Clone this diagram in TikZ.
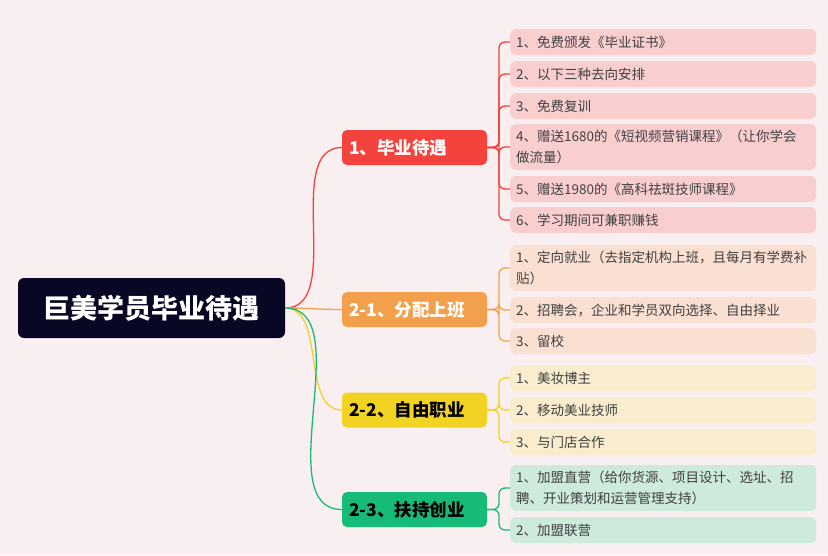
\documentclass[tikz,border=0pt]{standalone}
\usepackage{fontspec}
\newfontfamily\cjk{Noto Sans CJK SC}
\begin{document}
\begin{tikzpicture}[x=1pt,y=-1pt,font=\cjk,
 leaf/.style={rounded corners=6pt,minimum width=306pt,text width=294pt,align=left,inner sep=0pt,text=black!75,font=\cjk\fontsize{13.5}{21}\selectfont,anchor=west},
 br/.style={rounded corners=5pt,minimum width=145pt,minimum height=35pt,inner sep=0pt,text width=131pt,align=left,font=\cjk\bfseries\fontsize{17.5}{20}\selectfont},
 ln/.style={line width=1.3pt,rounded corners=6pt}]
\definecolor{bg}{HTML}{F9EFF0}
\definecolor{cR}{HTML}{F4433C}\definecolor{lR}{HTML}{F9CECF}
\definecolor{cO}{HTML}{F3A04D}\definecolor{lO}{HTML}{FAE0D2}
\definecolor{cY}{HTML}{F2D324}\definecolor{lY}{HTML}{F9EDCE}
\definecolor{cG}{HTML}{17BB78}\definecolor{lG}{HTML}{CDEADB}
\fill[bg] (0,0) rectangle (828,555);
\useasboundingbox (0,0) rectangle (828,555);
\node[fill={rgb,255:red,8;green,8;blue,36},rounded corners=6pt,minimum width=267pt,minimum height=60pt,text=white,font=\cjk\bfseries\fontsize{27}{30}\selectfont] (root) at (151.5,308) {巨美学员毕业待遇};
\node[br,fill=cR,text=white] (b1) at (414.5,147.5) {1、毕业待遇};
\node[br,fill=cO,text=white] (b2) at (414.5,309.5) {2-1、分配上班};
\node[br,fill=cY,text=black] (b3) at (414.5,410) {2-2、自由职业};
\node[br,fill=cG,text=black] (b4) at (414.5,509.5) {2-3、扶持创业};
\foreach \b/\c in {b1/cR,b2/cO,b3/cY,b4/cG}
 \draw[\c,line width=1.3pt] (root.east) to[out=0,in=180,looseness=0.9] (\b.west);
% leaves
\node[leaf,fill=lR,minimum height=26pt] (r1) at (510,42) {1、免费颁发《毕业证书》};
\node[leaf,fill=lR,minimum height=26pt] (r2) at (510,74) {2、以下三种去向安排};
\node[leaf,fill=lR,minimum height=26pt] (r3) at (510,106) {3、免费复训};
\node[leaf,fill=lR,minimum height=46pt] (r4) at (510,147) {4、赠送1680的《短视频营销课程》（让你学会\\做流量）};
\node[leaf,fill=lR,minimum height=26pt] (r5) at (510,189) {5、赠送1980的《高科祛斑技师课程》};
\node[leaf,fill=lR,minimum height=26pt] (r6) at (510,220) {6、学习期间可兼职赚钱};
\node[leaf,fill=lO,minimum height=46pt] (o1) at (510,268) {1、定向就业（去指定机构上班，且每月有学费补\\贴）};
\node[leaf,fill=lO,minimum height=26pt] (o2) at (510,310) {2、招聘会，企业和学员双向选择、自由择业};
\node[leaf,fill=lO,minimum height=26pt] (o3) at (510,341) {3、留校};
\node[leaf,fill=lY,minimum height=26pt] (y1) at (510,378) {1、美妆博主};
\node[leaf,fill=lY,minimum height=26pt] (y2) at (510,410) {2、移动美业技师};
\node[leaf,fill=lY,minimum height=26pt] (y3) at (510,442) {3、与门店合作};
\node[leaf,fill=lG,minimum height=46pt] (g1) at (510,488) {1、加盟直营（给你货源、项目设计、选址、招\\聘、开业策划和运营管理支持）};
\node[leaf,fill=lG,minimum height=26pt] (g2) at (510,530) {2、加盟联营};
\foreach \l in {r1,r2,r3,r4,r5,r6} \draw[ln,cR] (b1.east) -- (499,147.5) |- (\l.west);
\foreach \l in {o1,o2,o3} \draw[ln,cO] (b2.east) -- (499,309.5) |- (\l.west);
\foreach \l in {y1,y2,y3} \draw[ln,cY] (b3.east) -- (499,410) |- (\l.west);
\foreach \l in {g1,g2} \draw[ln,cG] (b4.east) -- (499,509.5) |- (\l.west);
\end{tikzpicture}
\end{document}
